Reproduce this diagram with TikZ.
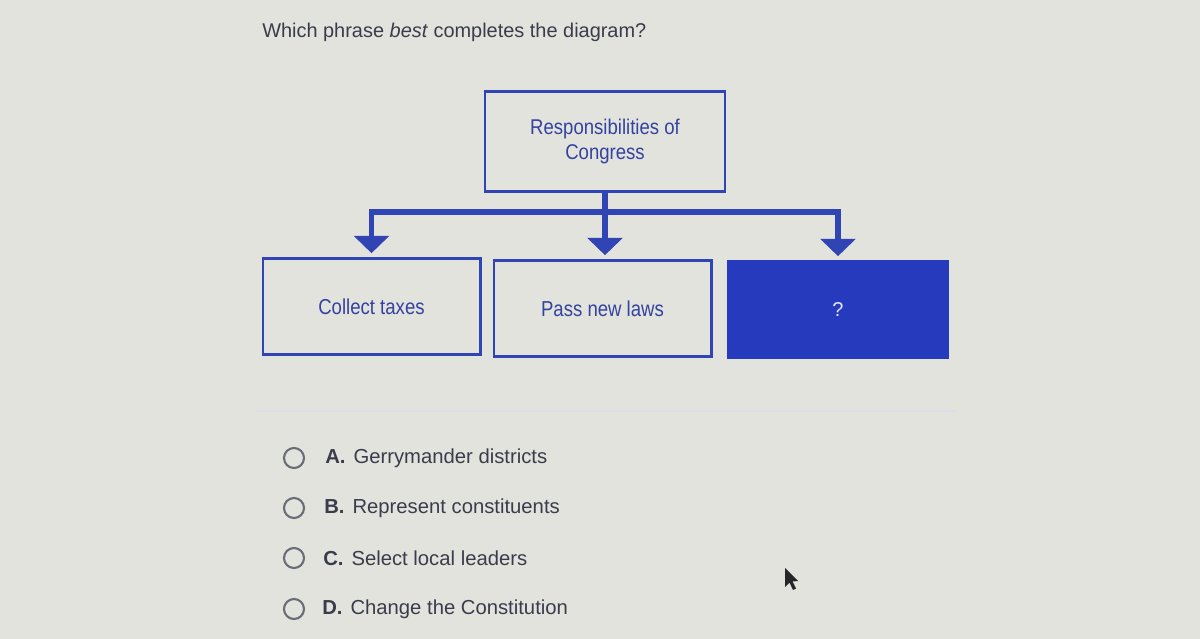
\documentclass[tikz,border=0pt]{standalone}
\usepackage{fontspec}
\setmainfont{Liberation Sans}
\usetikzlibrary{arrows.meta}
\definecolor{bg}{RGB}{226,227,221}
\definecolor{cblue}{RGB}{48,68,180}
\definecolor{fblue}{RGB}{38,58,190}
\definecolor{tblue}{RGB}{52,66,160}
\definecolor{txt}{RGB}{58,60,76}
\definecolor{rad}{RGB}{105,108,118}
\tikzset{
  boxa/.style={draw=cblue, line width=2pt, minimum width=163pt, minimum height=72pt, inner sep=0pt, text=tblue, font=\fontsize{16.2}{18}\selectfont},
  topbox/.style={draw=cblue, line width=2pt, minimum width=180pt, minimum height=75pt, inner sep=0pt, text=tblue, align=center, font=\fontsize{16}{18.75}\selectfont},
  qbox/.style={draw=fblue, fill=fblue, line width=1pt, minimum width=165pt, minimum height=73pt, inner sep=0pt, text=white!90!blue, font=\fontsize{15}{16}\selectfont},
  conn/.style={draw=cblue, line width=3.8pt, -{Triangle[width=26pt,length=13pt]}, shorten >=3pt},
  radio/.style={draw=rad, line width=1.6pt, circle, minimum size=15pt, inner sep=0pt},
  opt/.style={anchor=west, text=txt, inner sep=0pt, font=\fontsize{15.2}{17}\selectfont},
  title/.style={anchor=west, text=txt, inner sep=0pt, font=\fontsize{14.95}{17}\selectfont}
}
\begin{document}
\begin{tikzpicture}[x=0.75pt, y=-0.75pt]
\fill[bg] (0,0) rectangle (1200,639);
\useasboundingbox (0,0) rectangle (1200,639);
\node[title] (t) at (262,32.5) {Which phrase \textit{best} completes the diagram?};
\node[topbox] (top) at (605,141.5) {\scalebox{0.87}[1]{\begin{tabular}{@{}c@{}}Responsibilities of\\Congress\end{tabular}}};
\node[boxa] (b1) at (371.5,306.5) {\scalebox{0.86}[1]{Collect taxes}};
\node[boxa] (b2) at (602.5,308.5) {\scalebox{0.86}[1]{Pass new laws}};
\node[qbox] (b3) at (838,309.5) {?};
\coordinate (bar) at (605,212);
\draw[conn] (top.south) -- (bar) -| (b1.north);
\draw[conn] (top.south) -- (bar) -- (b2.north -| bar);
\draw[conn] (top.south) -- (bar) -| (b3.north);
\draw[draw=white!80!cblue!60!bg, line width=0.8pt] (255,411) -- (955,411);
\node[radio] (ra) at (294,458) {};
\node[radio] (rb) at (294,508) {};
\node[radio] (rc) at (294,558) {};
\node[radio] (rd) at (294,609) {};
\node[opt] (oa) at (325,458) {\textbf{A.}\hspace{6pt}Gerrymander districts};
\node[opt] (ob) at (324,508) {\textbf{B.}\hspace{6pt}Represent constituents};
\node[opt] (oc) at (323,558) {\textbf{C.}\hspace{6pt}Select local leaders};
\node[opt] (od) at (322,609) {\textbf{D.}\hspace{6pt}Change the Constitution};
\fill[black!85] (785,568) -- (785,587) -- (789.5,582.5) -- (793,590) -- (796,588.5) -- (792.5,581.5) -- (798,581) -- cycle;
\end{tikzpicture}
\end{document}
